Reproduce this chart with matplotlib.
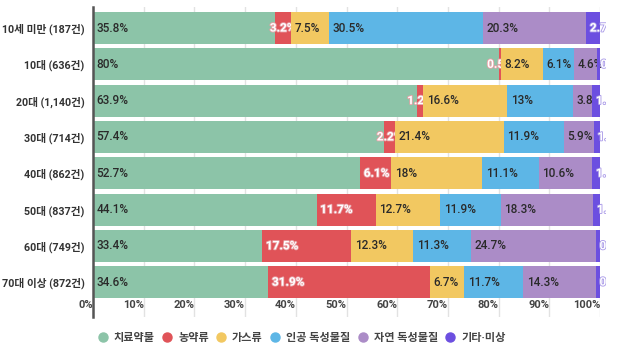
import matplotlib.pyplot as plt
import matplotlib.patheffects as pe
from matplotlib.transforms import Bbox, TransformedBbox
import numpy as np

plt.rcParams['font.family'] = ['Roboto', 'Noto Sans CJK KR', 'DejaVu Sans']

# 데이터
groups = ['10세 미만 (187건)', '10대 (636건)', '20대 (1,140건)', '30대 (714건)',
          '40대 (862건)', '50대 (837건)', '60대 (749건)', '70대 이상 (872건)']
series = ['치료약물', '농약류', '가스류', '인공 독성물질', '자연 독성물질', '기타·미상']
치료약물 = [35.8, 80, 63.9, 57.4, 52.7, 44.1, 33.4, 34.6]
농약류 = [3.2, 0.5, 1.2, 2.2, 6.1, 11.7, 17.5, 31.9]
가스류 = [7.5, 8.2, 16.6, 21.4, 18, 12.7, 12.3, 6.7]
인공 = [30.5, 6.1, 13, 11.9, 11.1, 11.9, 11.3, 11.7]
자연 = [20.3, 4.6, 3.8, 5.9, 10.6, 18.3, 24.7, 14.3]
기타 = [2.7, 0.6, 1.5, 1.2, 1.5, 1.3, 0.8, 0.8]
values = [치료약물, 농약류, 가스류, 인공, 자연, 기타]
xticks = [0, 10, 20, 30, 40, 50, 60, 70, 80, 90, 100]

colors = ['#8cc4a8', '#e05358', '#f2c861', '#5db6e6', '#ab8cc7', '#6c4fe0']
text_colors = ['#2a2a2a', 'white', '#2a2a2a', '#2a2a2a', '#2a2a2a', 'white']
strokes = {1: '#e8a0a6', 5: '#a898e8'}

fig = plt.figure(figsize=(6.17, 3.64), dpi=100)
ax = fig.add_axes([93 / 617, 1 - 317 / 364, (600 - 93) / 617, (317 - 7) / 364])
# 라벨은 그림 영역보다 살짝 넓게 잘림
clip = TransformedBbox(Bbox([[0, -1], [101.2, 9]]), ax.transData)

y = np.arange(len(groups))
left = np.zeros(len(groups))
# 막대와 라벨을 순서대로 그려서 다음 막대가 넘친 라벨을 덮도록 함
for i, vals in enumerate(values):
    vals = np.array(vals, dtype=float)
    ax.barh(y, vals, left=left, height=0.88, color=colors[i], zorder=2)
    for j, v in enumerate(vals):
        label = f'{v:g}%'
        white = text_colors[i] == 'white'
        if i == 1 and v < 5:
            xpos, ha = left[j] + v / 2, 'center'
        else:
            xpos, ha = left[j] + 0.7, 'left'
        t = ax.text(xpos, y[j], label, va='center', ha=ha,
                    fontsize=8.5, color=text_colors[i],
                    fontweight='bold' if white else 'medium', zorder=2)
        t.set_clip_box(clip)
        t.set_clip_on(True)
        if white:
            t.set_path_effects([pe.withStroke(linewidth=1.2, foreground=strokes[i])])
    left += vals

ax.set_xlim(0, 100)
ax.set_ylim(7.96, -0.58)
ax.set_yticks(y)
ax.set_yticklabels(groups, fontsize=7.7, fontweight='bold', color='#333333')
ax.set_xticks(xticks)
ax.set_xticklabels([f'{t}%' for t in xticks], fontsize=8, fontweight='bold',
                   color='#444444', ha='right')
ax.tick_params(axis='x', length=0, pad=-12)
ax.tick_params(axis='y', length=0, pad=6)
ax.grid(axis='x', color='#e2e2e2', linewidth=1, zorder=0)
for s in ['top', 'right', 'bottom']:
    ax.spines[s].set_visible(False)
ax.spines['left'].set_color('#555555')
ax.spines['left'].set_linewidth(1.8)
ax.spines['left'].set_zorder(4)

handles = [plt.Line2D([], [], marker='o', linestyle='', markersize=6.5,
                      markerfacecolor=c, markeredgecolor=c) for c in colors]
fig.legend(handles, series, loc='center', bbox_to_anchor=(302 / 617, 1 - 338 / 364),
           ncol=6, frameon=False, handlelength=0.8, handletextpad=0.6, columnspacing=0.7,
           labelcolor='#444444', prop={'weight': 'bold', 'size': 8})

fig.savefig('out.png', dpi=100)
